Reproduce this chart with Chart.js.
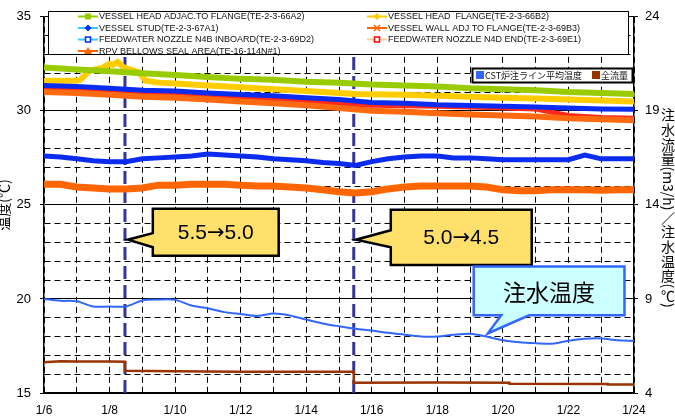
<!DOCTYPE html>
<html>
<head>
<meta charset="utf-8">
<script src="https://cdn.jsdelivr.net/npm/chart.js@4/dist/chart.umd.min.js"></script>
<style>
  html, body { margin: 0; padding: 0; background: #fff; }
  #wrap { width: 675px; height: 418px; }
</style>
</head>
<body>
<div id="wrap"><canvas id="chart" width="675" height="418"></canvas></div>
<script>
// x axis: days since 1/6
const xLabels = ["1/6", "1/7", "1/8", "1/9", "1/10", "1/11", "1/12", "1/13", "1/14", "1/15",
  "1/16", "1/17", "1/18", "1/19", "1/20", "1/21", "1/22", "1/23", "1/24"]
const dayFull = [0, 1, 2, 3, 4, 5, 6, 7, 8, 9, 10, 11, 12, 13, 14, 15, 16, 17, 18]
const dayHalf = [0, 0.5, 1, 1.5, 2, 2.5, 3, 3.5, 4, 4.5, 5, 5.5, 6, 6.5, 7, 7.5, 8, 8.5, 9, 9.5,
  10, 10.5, 11, 11.5, 12, 12.5, 13, 13.5, 14, 14.5, 15, 15.5, 16, 16.5, 17, 17.5, 18]

// left axis (temperature, deg C)
const headAdjac = [32.3, 32.2, 32.1, 32.0, 31.9, 31.8, 31.7, 31.65, 31.55, 31.5, 31.4, 31.35, 31.3, 31.2, 31.15, 31.1, 31.0, 30.95, 30.9]
const vesselStud = [31.35, 31.3, 31.2, 31.1, 31.05, 30.95, 30.87, 30.8, 30.7, 30.6, 30.45, 30.4, 30.32, 30.28, 30.25, 30.2, 30.15, 30.1, 30.08]
const wallAdj = [31.0, 30.95, 30.85, 30.75, 30.7, 30.6, 30.5, 30.4, 30.3, 30.15, 30.0, 29.95, 29.87, 29.8, 29.75, 29.7, 29.6, 29.55, 29.5]
const n4dEnd = [31.2, 31.15, 31.1, 30.9, 30.85, 30.8, 30.7, 30.6, 30.5, 30.4, 30.3, 30.27, 30.24, 30.2, 30.15, 30.1, 29.75, 29.65, 29.6]

const headFlangeDays = [0, 0.5, 1, 1.1, 1.4, 1.8, 2.0, 2.1, 2.25, 2.4, 2.6, 2.9, 3.1, 3.5, 4, 5, 6, 7, 8, 9, 9.5, 10, 11, 12, 13, 14, 15, 16, 17, 18]
const headFlange = [31.6, 31.6, 31.6, 31.65, 32.15, 32.3, 32.5, 32.45, 32.6, 32.35, 32.2, 32.05, 31.6, 31.5, 31.45, 31.35, 31.25, 31.15, 31.05, 30.95, 30.9, 30.88, 30.85, 30.8, 30.75, 30.7, 30.65, 30.6, 30.55, 30.5]

const n4bInboard = [27.6, 27.55, 27.45, 27.35, 27.3, 27.3, 27.45, 27.5, 27.55, 27.6,
  27.7, 27.65, 27.6, 27.55, 27.45, 27.4, 27.35, 27.25, 27.2, 27.1,
  27.3, 27.45, 27.55, 27.6, 27.6, 27.5, 27.5, 27.45, 27.4, 27.4,
  27.4, 27.4, 27.4, 27.65, 27.45, 27.45, 27.45]
const bellowsSeal = [26.1, 26.1, 25.95, 25.9, 25.85, 25.85, 25.9, 26.05, 26.05, 26.1,
  26.1, 26.1, 26.05, 26.0, 26.0, 25.95, 25.9, 25.8, 25.7, 25.63,
  25.7, 25.85, 25.95, 26.0, 26.0, 26.0, 26.0, 25.95, 25.8, 25.75,
  25.75, 25.8, 25.8, 25.8, 25.78, 25.8, 25.8]

// right axis (flow m3/h, water temperature deg C)
const cstTemp = [9.0, 8.9, 8.88, 8.6, 8.6, 8.6, 8.92, 8.97, 8.95, 8.65,
  8.5, 8.3, 8.2, 8.1, 8.22, 8.12, 7.9, 7.7, 7.55, 7.42,
  7.32, 7.2, 7.1, 7.0, 7.0, 7.1, 7.15, 7.0, 6.8, 6.7,
  6.65, 6.62, 6.78, 6.88, 6.9, 6.8, 6.77]
const flowDays = [0, 0.5, 1, 2, 2.47, 2.47, 4, 6, 9.45, 9.45, 12, 14.2, 14.2, 17.2, 17.2, 18]
const flowValues = [5.63, 5.69, 5.68, 5.67, 5.66, 5.18, 5.15, 5.13, 5.13, 4.55, 4.56, 4.55, 4.49, 4.48, 4.45, 4.45]

// flow rate changes
const changeDays = [2.47, 9.45]
const changeFrom = ["5.5", "5.0"]
const changeTo = ["5.0", "4.5"]

const pts = (xs, ys) => xs.map((x, i) => ({ x: x, y: ys[i] }))

const series = [
  { label: "VESSEL HEAD ADJAC.TO FLANGE(TE-2-3-66A2)", data: pts(dayFull, headAdjac), color: "#99cc00", width: 6, lineKey: "#99cc00", marker: "square", markerColor: "#99cc00", col: 0, row: 0 },
  { label: "VESSEL STUD(TE-2-3-67A1)", data: pts(dayFull, vesselStud), color: "#0a2cf0", width: 5, lineKey: "#33ccff", marker: "diamond", markerColor: "#0a2cf0", col: 0, row: 1 },
  { label: "FEEDWATER NOZZLE N4B INBOARD(TE-2-3-69D2)", data: pts(dayHalf, n4bInboard), color: "#0a2cf0", width: 5, lineKey: "#33ccff", marker: "squareHollow", markerColor: "#0a2cf0", col: 0, row: 2 },
  { label: "RPV BELLOWS SEAL AREA(TE-16-114N#1)", data: pts(dayHalf, bellowsSeal), color: "#ff6600", width: 7, lineKey: "#ff6600", marker: "triangle", markerColor: "#ff6600", col: 0, row: 3 },
  { label: "VESSEL HEAD  FLANGE(TE-2-3-66B2)", data: pts(headFlangeDays, headFlange), color: "#ffcc00", width: 6, lineKey: "#ffcc00", marker: "diamond", markerColor: "#ffcc00", col: 1, row: 0 },
  { label: "VESSEL WALL ADJ TO FLANGE(TE-2-3-69B3)", data: pts(dayFull, wallAdj), color: "#ff6a10", width: 6, lineKey: "#ff6600", marker: "cross", markerColor: "#ff6600", col: 1, row: 1 },
  { label: "FEEDWATER NOZZLE N4D END(TE-2-3-69E1)", data: pts(dayFull, n4dEnd), color: "#ff2a1a", width: 5, lineKey: "#ffcc99", marker: "squareHollow", markerColor: "#ff0000", col: 1, row: 2 }
]

const datasets = series.map(s => ({
  label: s.label, data: s.data, yAxisID: "y", borderColor: s.color, backgroundColor: s.color,
  borderWidth: s.width, pointRadius: 0, tension: 0
}))
datasets.push({ label: "CST炉注ライン平均温度", data: pts(dayHalf, cstTemp), yAxisID: "y1", borderColor: "#3366ff", borderWidth: 2, pointRadius: 0, tension: 0.3 })
datasets.push({ label: "全流量", data: pts(flowDays, flowValues), yAxisID: "y1", borderColor: "#993300", borderWidth: 2.5, pointRadius: 0, tension: 0 })
changeDays.forEach(d => {
  datasets.push({ label: "", data: [{ x: d, y: 15 }, { x: d, y: 35 }], yAxisID: "y", borderColor: "#333399", borderWidth: 3, borderDash: [13, 6], pointRadius: 0 })
})

// callouts in data units (left axis)
const callouts = [
  { parts: [changeFrom[0], "→", changeTo[0]], x0: 3.32, x1: 7.16, yTop: 24.8, yBot: 22.3, tipX: 2.56, tipY: 23.15, a1: 23.5, a2: 22.75, side: "left", fill: "#ffe06a", stroke: "#000" },
  { parts: [changeFrom[1], "→", changeTo[1]], x0: 10.58, x1: 14.88, yTop: 24.74, yBot: 21.8, tipX: 9.52, tipY: 23.15, a1: 23.65, a2: 22.75, side: "left", fill: "#ffe06a", stroke: "#000" },
  { parts: ["注水温度"], x0: 13.11, x1: 17.71, yTop: 21.72, yBot: 19.13, tipX: 13.54, tipY: 18.17, a1: 13.95, a2: 14.8, side: "bottom", fill: "#ccffff", stroke: "#3366ff" }
]

const latinFont = '21px "Liberation Sans", Arial, sans-serif'
const cjkFont = '23px "Noto Sans CJK JP", sans-serif'
const arrowFont = '21px "DejaVu Sans", sans-serif'

function drawMarker(ctx, type, x, y, color) {
  ctx.save()
  ctx.fillStyle = color
  ctx.strokeStyle = color
  ctx.lineWidth = 1.5
  if (type === "square") {
    ctx.fillRect(x - 3, y - 3, 6, 6)
  } else if (type === "squareHollow") {
    ctx.fillStyle = "#fff"
    ctx.fillRect(x - 2.5, y - 2.5, 5, 5)
    ctx.strokeRect(x - 2.5, y - 2.5, 5, 5)
  } else if (type === "diamond") {
    ctx.beginPath()
    ctx.moveTo(x, y - 3.5); ctx.lineTo(x + 3.5, y); ctx.lineTo(x, y + 3.5); ctx.lineTo(x - 3.5, y)
    ctx.closePath(); ctx.fill()
  } else if (type === "triangle") {
    ctx.beginPath()
    ctx.moveTo(x, y - 4); ctx.lineTo(x + 4, y + 3); ctx.lineTo(x - 4, y + 3)
    ctx.closePath(); ctx.fill()
  } else if (type === "cross") {
    ctx.beginPath()
    ctx.moveTo(x - 3, y - 3); ctx.lineTo(x + 3, y + 3)
    ctx.moveTo(x + 3, y - 3); ctx.lineTo(x - 3, y + 3)
    ctx.stroke()
  }
  ctx.restore()
}

function drawCallout(ctx, xs, ys, c) {
  const l = xs.getPixelForValue(c.x0), r = xs.getPixelForValue(c.x1)
  const t = ys.getPixelForValue(c.yTop), b = ys.getPixelForValue(c.yBot)
  const tx = xs.getPixelForValue(c.tipX), ty = ys.getPixelForValue(c.tipY)
  ctx.save()
  ctx.beginPath()
  if (c.side === "left") {
    const a1 = ys.getPixelForValue(c.a1), a2 = ys.getPixelForValue(c.a2)
    ctx.moveTo(l, t); ctx.lineTo(r, t); ctx.lineTo(r, b); ctx.lineTo(l, b)
    ctx.lineTo(l, a2); ctx.lineTo(tx, ty); ctx.lineTo(l, a1)
  } else {
    const a1 = xs.getPixelForValue(c.a1), a2 = xs.getPixelForValue(c.a2)
    ctx.moveTo(l, t); ctx.lineTo(r, t); ctx.lineTo(r, b); ctx.lineTo(a2, b)
    ctx.lineTo(tx, ty); ctx.lineTo(a1, b); ctx.lineTo(l, b)
  }
  ctx.closePath()
  ctx.fillStyle = c.fill
  ctx.fill()
  ctx.lineWidth = 2.5
  ctx.lineJoin = "miter"
  ctx.strokeStyle = c.stroke
  ctx.stroke()

  ctx.fillStyle = "#000"
  ctx.textAlign = "left"
  ctx.textBaseline = "middle"
  const cy = (t + b) / 2 + 1
  if (c.parts.length === 1) {
    ctx.font = cjkFont
    ctx.textAlign = "center"
    ctx.fillText(c.parts[0], (l + r) / 2, cy)
  } else {
    const fonts = [latinFont, arrowFont, latinFont]
    const widths = c.parts.map((p, i) => { ctx.font = fonts[i]; return ctx.measureText(p).width })
    let x = (l + r) / 2 - widths.reduce((a, w) => a + w, 0) / 2
    c.parts.forEach((p, i) => {
      ctx.font = fonts[i]
      ctx.fillText(p, x, cy)
      x += widths[i]
    })
  }
  ctx.restore()
}

function drawVerticalText(ctx, text, cx, y, size) {
  ctx.save()
  ctx.font = size + 'px "Noto Sans CJK JP", sans-serif'
  ctx.fillStyle = "#000"
  ctx.textBaseline = "middle"
  ctx.textAlign = "center"
  for (const ch of text) {
    if (ch.charCodeAt(0) > 0x2000) {
      ctx.fillText(ch, cx, y + size / 2)
      y += size + 0.6
    } else {
      const w = ctx.measureText(ch).width
      ctx.save()
      ctx.translate(cx, y + w / 2)
      ctx.rotate(Math.PI / 2)
      ctx.fillText(ch, 0, 0)
      ctx.restore()
      y += w
    }
  }
  ctx.restore()
}

const decorPlugin = {
  id: "decor",
  afterDatasetsDraw(chart) {
    const ctx = chart.ctx
    const xs = chart.scales.x, ys = chart.scales.y
    callouts.forEach(c => drawCallout(ctx, xs, ys, c))

    // legend for the vessel temperatures
    ctx.save()
    ctx.fillStyle = "#fff"
    ctx.fillRect(48, 11, 580, 43)
    ctx.strokeStyle = "#000"
    ctx.lineWidth = 1
    ctx.strokeRect(48.5, 11.5, 580, 43)
    ctx.font = '9px "Liberation Sans", Arial, sans-serif'
    ctx.textBaseline = "middle"
    ctx.textAlign = "left"
    const colX = [78, 367], rowY = [16.5, 28, 39.5, 51]
    series.forEach(s => {
      const x = colX[s.col], y = rowY[s.row]
      ctx.strokeStyle = s.lineKey
      ctx.lineWidth = 2
      ctx.beginPath(); ctx.moveTo(x, y); ctx.lineTo(x + 20, y); ctx.stroke()
      drawMarker(ctx, s.marker, x + 10, y, s.markerColor)
      ctx.fillStyle = "#111"
      ctx.fillText(s.label, x + 21, y + 0.5)
    })

    // legend for injection line
    ctx.fillStyle = "#fff"
    ctx.fillRect(472, 68, 160, 14)
    ctx.strokeStyle = "#000"
    ctx.strokeRect(472.5, 68.5, 160, 14)
    ctx.font = '9px "Noto Sans CJK JP", sans-serif'
    ctx.fillStyle = "#3366ff"
    ctx.fillRect(476, 71, 8, 8)
    ctx.fillStyle = "#111"
    ctx.fillText("CST炉注ライン平均温度", 485, 75.5)
    ctx.fillStyle = "#993300"
    ctx.fillRect(592, 71, 8, 8)
    ctx.fillStyle = "#111"
    ctx.fillText("全流量", 601, 75.5)
    ctx.restore()
  },
  afterDraw(chart) {
    const ctx = chart.ctx
    ctx.save()
    ctx.font = '14px "Noto Sans CJK JP", sans-serif'
    ctx.fillStyle = "#000"
    ctx.textAlign = "center"
    ctx.textBaseline = "middle"
    ctx.translate(4, 205)
    ctx.rotate(-Math.PI / 2)
    ctx.fillText("温度(℃)", 0, 0)
    ctx.restore()
    drawVerticalText(ctx, "注水流量(m3/h)／注水温度(℃)", 668, 108, 14)
  }
}

const tickFont = { family: '"Liberation Sans", Arial, sans-serif', size: 13 }

new Chart(document.getElementById("chart").getContext("2d"), {
  type: "line",
  data: { datasets: datasets },
  options: {
    responsive: false,
    animation: false,
    layout: { padding: { top: 15, left: 0, right: 0, bottom: 0 } },
    plugins: { legend: { display: false }, tooltip: { enabled: false } },
    scales: {
      x: {
        type: "linear", min: 0, max: 18,
        afterFit: s => { s.height = 25 },
        ticks: {
          stepSize: 1, autoSkip: false, maxRotation: 0, padding: 10,
          color: "#000", font: { family: tickFont.family, size: 12 },
          callback: v => (v % 2 === 0 ? xLabels[v] : "")
        },
        grid: { color: "#000", lineWidth: 1, drawTicks: false },
        border: { display: true, color: "#000", width: 1.5, dash: [6, 4] }
      },
      y: {
        position: "left", min: 15, max: 35,
        afterFit: s => { s.width = 44 },
        ticks: {
          stepSize: 1, autoSkip: false, padding: 9, color: "#000", font: tickFont,
          callback: v => (v % 5 === 0 ? String(v) : "")
        },
        grid: {
          color: "#000", lineWidth: 1, tickLength: 4,
          tickColor: ctx => (ctx.tick && ctx.tick.value % 5 === 0 ? "#000" : "rgba(0,0,0,0)")
        },
        border: {
          display: true, color: "#000", width: 1.5,
          dash: ctx => (ctx.tick && ctx.tick.value % 5 !== 0 ? [6, 4] : [])
        }
      },
      y1: {
        position: "right", min: 4, max: 24,
        afterFit: s => { s.width = 41 },
        ticks: { stepSize: 5, padding: 7, color: "#000", font: tickFont },
        grid: { drawOnChartArea: false, color: "#000", tickLength: 4 },
        border: { display: true, color: "#000", width: 1.5 }
      }
    }
  },
  plugins: [decorPlugin]
})
</script>
</body>
</html>
